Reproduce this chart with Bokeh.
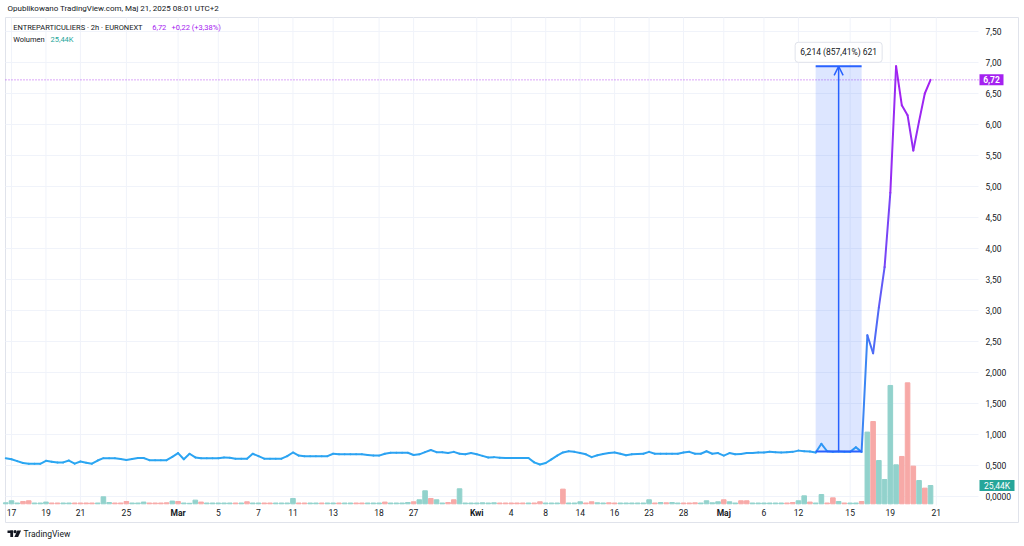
from bokeh.plotting import figure
from bokeh.models import Range1d, Label, Arrow, OpenHead
from bokeh.core.properties import value
from bokeh.embed import file_html
from bokeh.resources import INLINE

# ---------------- data ----------------
price = [
    0.618, 0.60, 0.57, 0.54, 0.527, 0.527, 0.527, 0.575, 0.56, 0.548,
    0.55, 0.58, 0.53, 0.565, 0.545, 0.53, 0.58, 0.618, 0.618, 0.618,
    0.605, 0.59, 0.605, 0.62, 0.62, 0.586, 0.586, 0.586, 0.586, 0.64,
    0.70, 0.60, 0.69, 0.63, 0.618, 0.618, 0.618, 0.618, 0.63, 0.625,
    0.61, 0.61, 0.61, 0.69, 0.65, 0.61, 0.61, 0.61, 0.61, 0.65,
    0.71, 0.66, 0.65, 0.65, 0.65, 0.65, 0.65, 0.69, 0.68, 0.68,
    0.68, 0.68, 0.68, 0.67, 0.66, 0.66, 0.69, 0.705, 0.705, 0.705,
    0.705, 0.67, 0.68, 0.715, 0.75, 0.715, 0.715, 0.70, 0.72, 0.69,
    0.68, 0.70, 0.68, 0.655, 0.63, 0.635, 0.625, 0.62, 0.62, 0.62,
    0.62, 0.62, 0.55, 0.516, 0.54, 0.60, 0.66, 0.71, 0.73, 0.72,
    0.70, 0.68, 0.635, 0.665, 0.685, 0.70, 0.71, 0.69, 0.665, 0.68,
    0.685, 0.69, 0.72, 0.69, 0.69, 0.69, 0.69, 0.69, 0.71, 0.72,
    0.69, 0.69, 0.73, 0.69, 0.70, 0.66, 0.70, 0.68, 0.685, 0.70,
    0.70, 0.71, 0.71, 0.72, 0.715, 0.71, 0.715, 0.72, 0.74, 0.73,
    0.725, 0.71, 0.85, 0.73, 0.72, 0.725, 0.72, 0.72, 0.795, 0.72,
    2.60, 2.31, 3.05, 3.70, 4.90, 6.94, 6.31, 6.15, 5.58, 6.05,
    6.50, 6.72,
]

volume_k = [
    1.4, 4.2, 1.1, 3.2, 4.2, 1.1, 1.1, 2.4, 1.1, 1.1,
    1.1, 1.1, 1.1, 1.1, 1.1, 1.1, 1.1, 9.7, 1.8, 1.1,
    1.1, 3.2, 1.1, 1.1, 2.4, 1.1, 1.1, 1.1, 1.4, 3.8,
    3.2, 1.1, 0.7, 5.1, 2.4, 1.1, 1.1, 1.1, 1.1, 1.1,
    1.1, 1.1, 2.8, 1.1, 1.1, 1.1, 1.1, 1.1, 1.1, 1.1,
    7.4, 1.1, 1.1, 1.1, 1.1, 1.1, 1.1, 1.1, 1.1, 1.1,
    1.1, 1.1, 1.1, 1.1, 1.1, 1.1, 2.4, 1.1, 1.1, 1.1,
    1.8, 2.8, 5.6, 18.1, 7.4, 5.6, 1.1, 1.8, 5.6, 20.9,
    1.1, 1.1, 1.1, 1.4, 1.1, 1.4, 1.1, 1.1, 1.1, 1.1,
    1.1, 1.1, 1.1, 2.8, 1.1, 1.1, 1.1, 20.4, 1.1, 1.1,
    2.8, 1.1, 2.8, 1.4, 1.1, 1.4, 1.1, 1.1, 1.1, 1.1,
    1.1, 1.1, 5.6, 1.1, 1.8, 1.4, 1.8, 1.1, 1.1, 1.1,
    1.4, 1.1, 4.2, 1.4, 2.8, 5.6, 2.8, 1.1, 4.2, 4.2,
    1.1, 1.1, 1.1, 1.1, 1.1, 1.1, 1.1, 1.8, 4.2, 11.1,
    2.4, 1.1, 12.9, 1.1, 8.3, 3.2, 1.1, 1.1, 1.1, 3.2,
    99.7, 114.4, 60.2, 33.8, 164.5, 54.2, 65.8, 168.2, 52.4, 32.4,
    21.8, 25.44,
]

volume_dir = [
    "u", "u", "u", "d", "d", "u", "u", "u", "d", "d",
    "u", "u", "d", "d", "d", "d", "u", "u", "u", "d",
    "d", "d", "u", "u", "u", "d", "d", "d", "d", "u",
    "d", "u", "u", "u", "d", "u", "u", "u", "u", "u",
    "d", "u", "d", "u", "u", "d", "d", "u", "u", "u",
    "u", "d", "d", "u", "u", "d", "u", "u", "d", "u",
    "u", "d", "d", "u", "u", "u", "d", "u", "u", "u",
    "u", "d", "u", "u", "d", "u", "u", "d", "d", "u",
    "u", "u", "u", "u", "u", "u", "d", "d", "d", "d",
    "d", "u", "d", "d", "u", "u", "u", "d", "u", "u",
    "u", "d", "d", "u", "u", "d", "d", "u", "u", "u",
    "u", "u", "u", "d", "u", "d", "u", "u", "d", "d",
    "d", "u", "u", "u", "u", "d", "u", "u", "d", "d",
    "u", "u", "u", "u", "u", "u", "d", "d", "u", "u",
    "d", "u", "u", "d", "d", "u", "d", "u", "u", "d",
    "u", "d", "u", "u", "u", "u", "d", "d", "d", "u",
    "d", "u",
]

x_tick_idx = [1, 7, 13, 21, 30, 37, 44, 50, 57, 65, 71, 82, 88, 94, 100,
              106, 112, 118, 125, 132, 138, 147, 154, 162]
x_tick_labels = ["17", "19", "21", "25", "Mar", "5", "7", "11", "13", "18",
                 "27", "Kwi", "4", "8", "14", "16", "23", "28", "Maj", "6",
                 "12", "15", "19", "21"]
month_names = ["Mar", "Kwi", "Maj"]

y_ticks = [0.0, 0.5, 1.0, 1.5, 2.0, 2.5, 3.0, 3.5, 4.0, 4.5, 5.0, 5.5,
           6.0, 6.5, 7.0, 7.5]
y_tick_labels = ["0,0000", "0,500", "1,000", "1,500", "2,000", "2,50",
                 "3,00", "3,50", "4,00", "4,50", "5,00", "5,50", "6,00",
                 "6,50", "7,00", "7,50"]

last_price = 6.72
last_price_text = "6,72"
last_volume_k = 25.44
last_volume_text = "25,44K"
measure_from_bar = 141
measure_to_bar = 149
measure_low = 0.7247
measure_high = 6.9387
measure_text = "6,214 (857,41%) 621"

title_text = "Opublikowano TradingView.com, Maj 21, 2025 08:01 UTC+2"
legend_symbol = "ENTREPARTICULIERS · 2h · EURONEXT"
legend_price = "6,72"
legend_change = "+0,22 (+3,38%)"
legend_vol_name = "Wolumen"
legend_vol_value = "25,44K"
logo_text = "TradingView"

# ---------------- layout (pixels) & styles ----------------
W, H = 1020, 542
BAR0_PX, PX_PER_BAR = 5.26, 5.744      # x position of bar 0, bar spacing
PRICE0_PX, PX_PER_PRICE = 496.0, 62.0  # y position of price 0, px per unit
VOL0_PX, PX_PER_VOLK = 503.3, 18.3 / 25.44
PANE_L, PANE_R, PANE_T, PANE_B = 5, 1018, 17, 522
PLOT_R, PLOT_B = 978, 505

FONT = value("Roboto")
TEXT = "#131722"
PURPLE = "#a522f0"
TEAL = "#26a69a"
BLUE = "#2962ff"
GRID = "#f0f3fa"
BORDER = "#e0e3eb"
UP_VOL = "#92d2cc"
DN_VOL = "#f7a9a7"

stops = [(0.5, (41, 168, 242)), (2.4, (72, 112, 246)),
         (4.6, (128, 62, 246)), (7.0, (170, 28, 240))]


def xd(px):
    return (px - BAR0_PX) / PX_PER_BAR


def yd(py):
    return (PRICE0_PX - py) / PX_PER_PRICE


def vd(py):
    return (VOL0_PX - py) / PX_PER_VOLK


def grad(v):
    c = stops[0][1] if v <= stops[0][0] else stops[-1][1]
    for (a, ca), (b, cb) in zip(stops[:-1], stops[1:]):
        if a <= v <= b:
            t = (v - a) / (b - a)
            c = tuple(int(round(ca[k] + (cb[k] - ca[k]) * t)) for k in range(3))
            break
    return "#%02x%02x%02x" % c


n = len(price)
idx = list(range(n))

p = figure(width=W, height=H, output_backend="svg", toolbar_location=None,
           x_range=Range1d(xd(0), xd(W)), y_range=Range1d(yd(H), yd(0)),
           x_axis_location=None, y_axis_location=None, min_border=0,
           outline_line_color=None, background_fill_color="white",
           border_fill_color="white")
p.extra_y_ranges = {"vol": Range1d(vd(H), vd(0))}
p.xgrid.visible = False
p.ygrid.visible = False

# pane border
p.quad(left=xd(PANE_L), right=xd(PANE_R), top=yd(PANE_T), bottom=yd(PANE_B),
       fill_color=None, line_color=BORDER, line_width=1)

# grid lines
p.segment(x0=[xd(PANE_L)] * len(y_ticks), x1=[xd(PLOT_R)] * len(y_ticks),
          y0=y_ticks, y1=y_ticks, line_color=GRID, line_width=1)
p.segment(x0=x_tick_idx, x1=x_tick_idx, y0=[yd(PANE_T)] * len(x_tick_idx),
          y1=[yd(PLOT_B)] * len(x_tick_idx), line_color=GRID, line_width=1)

# volume
vcols = [UP_VOL if d == "u" else DN_VOL for d in volume_dir]
p.vbar(x=idx, top=volume_k, bottom=0, width=0.8, color=vcols,
       y_range_name="vol")

# price line (gradient by value)
xs = [[idx[i], idx[i + 1]] for i in range(n - 1)]
ys = [[price[i], price[i + 1]] for i in range(n - 1)]
lc = [grad((price[i] + price[i + 1]) / 2) for i in range(n - 1)]
p.multi_line(xs=xs, ys=ys, line_color=lc, line_width=2,
             line_cap="round", line_join="round")

# last price dotted line
p.segment(x0=[xd(PANE_L)], x1=[xd(PLOT_R)], y0=[last_price], y1=[last_price],
          line_color=PURPLE, line_dash="1 2", line_width=1, line_alpha=0.8)

# measurement tool
p.quad(left=measure_from_bar, right=measure_to_bar, bottom=measure_low,
       top=measure_high, fill_color=BLUE, fill_alpha=0.16, line_color=None)
p.segment(x0=[measure_from_bar, measure_from_bar],
          y0=[measure_low, measure_high],
          x1=[measure_to_bar, measure_to_bar],
          y1=[measure_low, measure_high], line_color=BLUE, line_width=2)
mid = (measure_from_bar + measure_to_bar) / 2
p.add_layout(Arrow(end=OpenHead(size=9, line_color=BLUE, line_width=1.5),
                   x_start=mid, y_start=measure_low, x_end=mid,
                   y_end=measure_high, line_color=BLUE, line_width=1.5))
p.add_layout(Label(x=mid, y=measure_high, y_offset=14, text=measure_text,
                   text_align="center", text_baseline="middle",
                   text_font="Roboto", text_font_size="8.5px", text_color=TEXT,
                   background_fill_color="white", border_line_color=BORDER,
                   padding=5, border_radius=3))

# time axis labels
day_x = [t for t, l in zip(x_tick_idx, x_tick_labels) if l not in month_names]
day_l = [l for l in x_tick_labels if l not in month_names]
mon_x = [t for t, l in zip(x_tick_idx, x_tick_labels) if l in month_names]
mon_l = [l for l in x_tick_labels if l in month_names]
p.text(x=day_x, y=[yd(512)] * len(day_x), text=day_l, text_font=FONT,
       text_font_size="8.5px", text_color=TEXT, text_align="center",
       text_baseline="middle")
p.text(x=mon_x, y=[yd(512)] * len(mon_x), text=mon_l, text_font=FONT,
       text_font_size="8.5px", text_font_style="bold", text_color=TEXT,
       text_align="center", text_baseline="middle")

# price axis labels
p.text(x=[xd(985)] * len(y_ticks), y=y_ticks, text=y_tick_labels,
       text_font=FONT, text_font_size="8.5px", text_color=TEXT,
       text_align="left", text_baseline="middle")

# price axis tags
tag_half = 5.5
p.quad(left=xd(979), right=xd(1003), top=last_price + tag_half / PX_PER_PRICE,
       bottom=last_price - tag_half / PX_PER_PRICE, fill_color=PURPLE,
       line_color=None)
p.text(x=[xd(991)], y=[last_price], text=[last_price_text], text_font=FONT,
       text_font_size="8.5px", text_font_style="bold", text_color="white",
       text_align="center", text_baseline="middle")
p.quad(left=xd(979), right=xd(1014),
       top=last_volume_k + tag_half / PX_PER_VOLK,
       bottom=last_volume_k - tag_half / PX_PER_VOLK, fill_color=TEAL,
       line_color=None, y_range_name="vol")
p.text(x=[xd(996.5)], y=[last_volume_k], text=[last_volume_text],
       text_font=FONT, text_font_size="8.5px", text_color="white",
       text_align="center", text_baseline="middle", y_range_name="vol")


# header / footer texts
def add_text(px, py, txt, size, color, style="normal"):
    p.text(x=[xd(px)], y=[yd(py)], text=[txt], text_font=FONT,
           text_font_size=size, text_color=color, text_font_style=style,
           text_align="left", text_baseline="middle")


add_text(7, 8, title_text, "8px", TEXT)
add_text(12.7, 27, legend_symbol, "7.5px", TEXT)
add_text(151.7, 27, legend_price, "7.5px", PURPLE)
add_text(171, 27, legend_change, "7.5px", PURPLE)
add_text(12.7, 39, legend_vol_name, "7.5px", TEXT)
add_text(50, 39, legend_vol_value, "7.5px", TEAL)
add_text(23, 533, logo_text, "8.5px", TEXT)

# logo mark
p.quad(left=[xd(7), xd(9.8)], right=[xd(12.6), xd(12.6)],
       top=[yd(530), yd(530)], bottom=[yd(532.4), yd(536.5)],
       fill_color=TEXT, line_color=None)
p.scatter(x=[xd(14.6)], y=[yd(531.2)], size=3.2, marker="circle",
          fill_color=TEXT, line_color=None)
p.patch(x=[xd(16.8), xd(20.6), xd(17.6), xd(13.9)],
        y=[yd(530), yd(530), yd(536.5), yd(536.5)], fill_color=TEXT,
        line_color=None)

open("out.html", "w").write(file_html(p, INLINE))
